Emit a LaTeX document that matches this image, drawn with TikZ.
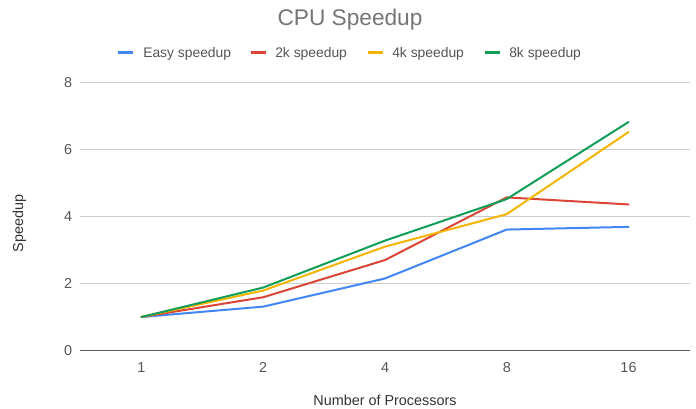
\documentclass[tikz,border=0pt]{standalone}
\usepackage{fontspec}
\setmainfont{Liberation Sans}
\definecolor{gblue}{HTML}{4285F4}
\definecolor{gred}{HTML}{DB4437}
\definecolor{gyellow}{HTML}{F4B400}
\definecolor{ggreen}{HTML}{0F9D58}
\definecolor{titlegray}{HTML}{757575}
\definecolor{textgray}{HTML}{555555}
\definecolor{gridgray}{HTML}{CCCCCC}
\definecolor{axisgray}{HTML}{333333}
\tikzset{
  series/.style={line width=1.5pt, line join=round, line cap=round},
  swatch/.style={line width=2.6pt},
  legtext/.style={anchor=base west, inner sep=0pt, text=textgray, font=\fontsize{10.4pt}{12pt}\selectfont},
  ticklab/.style={inner sep=0pt, text=textgray, font=\fontsize{10.8pt}{12pt}\selectfont},
  axtitle/.style={inner sep=0pt, text=axisgray, font=\fontsize{10.8pt}{12pt}\selectfont},
  gridline/.style={draw=gridgray, line width=0.75pt},
}
\begin{document}
\begin{tikzpicture}[x=0.75pt,y=-0.75pt]
\useasboundingbox (0,0) rectangle (696,409);
% title
\node[anchor=base, inner sep=0pt, text=titlegray, font=\fontsize{17pt}{20pt}\selectfont] (title) at (350,26) {CPU Speedup};
% legend
\coordinate (l1a) at (118,52.5); \coordinate (l1b) at (133,52.5);
\draw[swatch, gblue] (l1a) -- (l1b);
\node[legtext] (leg1) at (143,57.3) {Easy speedup};
\coordinate (l2a) at (251,52.5); \coordinate (l2b) at (266,52.5);
\draw[swatch, gred] (l2a) -- (l2b);
\node[legtext] (leg2) at (275,57.3) {2k speedup};
\coordinate (l3a) at (368,52.5); \coordinate (l3b) at (383,52.5);
\draw[swatch, gyellow] (l3a) -- (l3b);
\node[legtext] (leg3) at (392,57.3) {4k speedup};
\coordinate (l4a) at (485,52.5); \coordinate (l4b) at (500,52.5);
\draw[swatch, ggreen] (l4a) -- (l4b);
\node[legtext] (leg4) at (509,57.3) {8k speedup};
% grid
\foreach \v/\yy in {2/283.5,4/216.5,6/149.5,8/82.5}{
  \coordinate (gl\v) at (80,\yy); \coordinate (gr\v) at (690,\yy);
  \draw[gridline] (gl\v) -- (gr\v);
  \node[ticklab, anchor=east] (yt\v) at (72.5,\yy) {\v};
}
\node[ticklab, anchor=east] (yt0) at (72.5,350.5) {0};
\coordinate (ax0) at (80,350.5); \coordinate (ax1) at (690,350.5);
% x tick labels
\foreach \lab [count=\i from 0] in {1,2,4,8,16}{
  \node[ticklab] (xt\i) at ({141.5+121.75*\i},367.5) {\lab};
}
% axis titles
\node[axtitle, rotate=90] (ytitle) at (19.5,223.5) {Speedup};
\node[axtitle] (xtitle) at (385,400) {Number of Processors};
% data
\newcommand{\yv}[1]{350.5-33.5*#1}
\draw[series, gblue] (141.5,{\yv{1}}) -- (263.25,{\yv{1.31}}) -- (385,{\yv{2.15}}) -- (506.75,{\yv{3.61}}) -- (628.5,{\yv{3.69}});
\draw[series, gred] (141.5,{\yv{1}}) -- (263.25,{\yv{1.59}}) -- (385,{\yv{2.70}}) -- (506.75,{\yv{4.57}}) -- (628.5,{\yv{4.36}});
\draw[series, gyellow] (141.5,{\yv{1}}) -- (263.25,{\yv{1.79}}) -- (385,{\yv{3.10}}) -- (506.75,{\yv{4.07}}) -- (628.5,{\yv{6.52}});
\draw[series, ggreen] (141.5,{\yv{1}}) -- (263.25,{\yv{1.88}}) -- (385,{\yv{3.28}}) -- (506.75,{\yv{4.52}}) -- (628.5,{\yv{6.82}});
% zero axis
\draw[draw=axisgray!80, line width=1.1pt] (ax0) -- (ax1);
\end{tikzpicture}
\end{document}
